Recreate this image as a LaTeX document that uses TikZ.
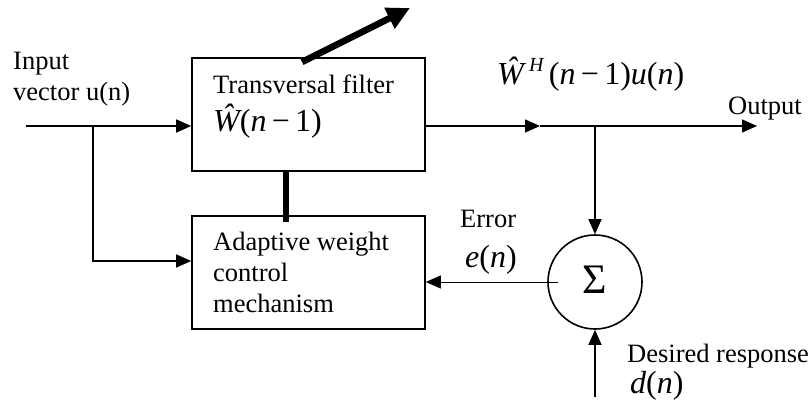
\documentclass[tikz,border=0pt]{standalone}
\usepackage{fontspec}
\setmainfont{Liberation Serif}
\usetikzlibrary{arrows.meta}
\begin{document}
\begin{tikzpicture}[x=1pt,y=-1pt,
  lbl/.style={font=\fontsize{26.5}{30}\selectfont, inner sep=0pt, anchor=base west},
  mth/.style={font=\fontsize{32}{36}\selectfont, inner sep=0pt, anchor=base west},
  blk/.style={draw, line width=1.6pt, rectangle, inner sep=0pt, minimum width=233pt, minimum height=113pt},
  sig/.style={-{Triangle[length=15pt,width=13pt]}, line width=1.5pt},
  thin sig/.style={-{Triangle[length=15pt,width=13pt]}, line width=0.9pt},
  heavy/.style={line width=5.5pt},
  heavyarrow/.style={line width=6.5pt, -{Triangle[length=23pt,width=22pt]}}]
\useasboundingbox (0,0) rectangle (811,406);

% blocks
\node[blk] (tf) at (308.5,114.5) {};
\node[blk] (awc) at (308.5,272.5) {};
\node[draw, circle, line width=1.6pt, minimum size=94pt, inner sep=0pt] (sum) at (595,282) {\raisebox{4pt}{\fontsize{42}{42}\selectfont Σ}};

% texts
\node[lbl] (in1) at (13,70) {Input};
\node[lbl] (in2) at (13,101) {vector u(n)};
\node[lbl] (tft) at (213,94) {Transversal filter};
\node[mth] (tfw) at (213,132) {{\itshape Ŵ}({\itshape n}\,−\,1)};
\node[mth] (outm) at (497,85) {{\itshape Ŵ}\,\raisebox{0.42em}{\fontsize{20}{20}\selectfont\itshape H}\,({\itshape n}\,−\,1){\itshape u}({\itshape n})};
\node[lbl] (outl) at (728,115) {Output};
\node[lbl] (aw1) at (213,251) {Adaptive weight};
\node[lbl] (aw2) at (213,281) {control};
\node[lbl] (aw3) at (213,312) {mechanism};
\node[lbl] (err) at (460,228) {Error};
\node[mth] (errm) at (465,267) {{\itshape e}({\itshape n})};
\node[lbl] (des) at (627,362) {Desired response};
\node[mth] (desm) at (630,393) {{\itshape d}({\itshape n})};

% coordinates
\coordinate (inS) at (26,126);
\coordinate (br1) at (93,126);
\coordinate (br1b) at (93,261);
\coordinate (oM) at (540,126);
\coordinate (oE) at (757,126);
\coordinate (eS) at (558,282);
\coordinate (dS) at (595,397);
\coordinate (vT) at (286,171);
\coordinate (vB) at (286,222);
\coordinate (adjS) at (302,62);
\coordinate (adjE) at (410,8);

% connectors
\draw[sig] (inS) -- (inS -| tf.west);
\draw[sig] (br1) -- (br1b) -- (br1b -| awc.west);
\draw[sig] (oM -| tf.east) -- (oM);
\draw[sig] (oM) -- (oE);
\draw[sig] (oM -| sum.north) -- (sum.north);
\draw[sig] (dS) -- (sum.south);
\draw[thin sig] (eS) -- (eS -| awc.east);
\draw[heavy] (vT) -- (vB);
\draw[heavyarrow] (adjS) -- (adjE);
\end{tikzpicture}
\end{document}
